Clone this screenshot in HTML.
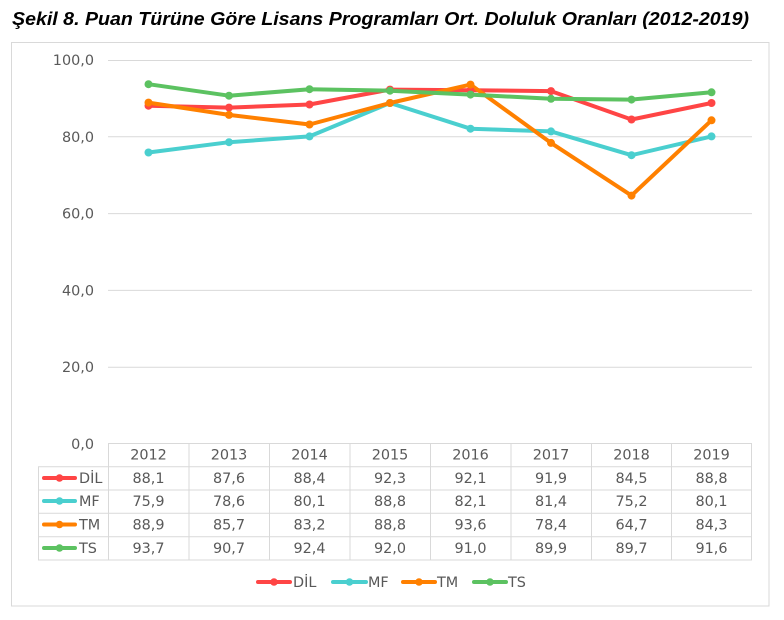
<!DOCTYPE html>
<html><head><meta charset="utf-8"><style>
html,body{margin:0;padding:0;background:#fff;}
svg{display:block;}
</style></head><body>
<svg width="784" height="620" viewBox="0 0 784 620" xmlns="http://www.w3.org/2000/svg">
<rect x="0" y="0" width="784" height="620" fill="#fff"/>
<text x="12" y="25" font-family="Liberation Sans, Arial, sans-serif" font-size="18" font-weight="bold" font-style="italic" fill="#000" textLength="737" lengthAdjust="spacingAndGlyphs">Şekil 8. Puan Türüne Göre Lisans Programları Ort. Doluluk Oranları (2012-2019)</text>
<rect x="11.5" y="42.5" width="757.5" height="563.5" fill="none" stroke="#D9D9D9" stroke-width="1"/>
<g stroke="#D9D9D9" stroke-width="1">
<line x1="108" y1="60.5" x2="752" y2="60.5"/>
<line x1="108" y1="136.8" x2="752" y2="136.8"/>
<line x1="108" y1="213.6" x2="752" y2="213.6"/>
<line x1="108" y1="290.4" x2="752" y2="290.4"/>
<line x1="108" y1="367.2" x2="752" y2="367.2"/>
<line x1="108" y1="443.5" x2="752" y2="443.5"/>
<line x1="38" y1="466.7" x2="752" y2="466.7"/>
<line x1="38" y1="490" x2="752" y2="490"/>
<line x1="38" y1="513.3" x2="752" y2="513.3"/>
<line x1="38" y1="536.7" x2="752" y2="536.7"/>
<line x1="38" y1="560" x2="752" y2="560"/>
<line x1="38.5" y1="466.7" x2="38.5" y2="560"/>
<line x1="108.5" y1="443.5" x2="108.5" y2="560"/>
<line x1="189" y1="443.5" x2="189" y2="560"/>
<line x1="269.5" y1="443.5" x2="269.5" y2="560"/>
<line x1="350" y1="443.5" x2="350" y2="560"/>
<line x1="430.5" y1="443.5" x2="430.5" y2="560"/>
<line x1="511" y1="443.5" x2="511" y2="560"/>
<line x1="591.5" y1="443.5" x2="591.5" y2="560"/>
<line x1="671.5" y1="443.5" x2="671.5" y2="560"/>
<line x1="751.5" y1="443.5" x2="751.5" y2="560"/>
</g>
<g font-family="DejaVu Sans, Verdana, sans-serif" font-size="14.4" fill="#595959" text-anchor="end">
<text x="94" y="65">100,0</text>
<text x="94" y="141.8">80,0</text>
<text x="94" y="218.6">60,0</text>
<text x="94" y="295.4">40,0</text>
<text x="94" y="372.2">20,0</text>
<text x="94" y="449">0,0</text>
</g>
<g font-family="DejaVu Sans, Verdana, sans-serif" font-size="14.4" fill="#595959" text-anchor="middle">
<text x="148.5" y="459.5">2012</text><text x="229" y="459.5">2013</text><text x="309.5" y="459.5">2014</text><text x="390" y="459.5">2015</text><text x="470.5" y="459.5">2016</text><text x="551" y="459.5">2017</text><text x="631.5" y="459.5">2018</text><text x="711.5" y="459.5">2019</text>
<text x="148.5" y="483">88,1</text><text x="229" y="483">87,6</text><text x="309.5" y="483">88,4</text><text x="390" y="483">92,3</text><text x="470.5" y="483">92,1</text><text x="551" y="483">91,9</text><text x="631.5" y="483">84,5</text><text x="711.5" y="483">88,8</text>
<text x="148.5" y="506">75,9</text><text x="229" y="506">78,6</text><text x="309.5" y="506">80,1</text><text x="390" y="506">88,8</text><text x="470.5" y="506">82,1</text><text x="551" y="506">81,4</text><text x="631.5" y="506">75,2</text><text x="711.5" y="506">80,1</text>
<text x="148.5" y="529.5">88,9</text><text x="229" y="529.5">85,7</text><text x="309.5" y="529.5">83,2</text><text x="390" y="529.5">88,8</text><text x="470.5" y="529.5">93,6</text><text x="551" y="529.5">78,4</text><text x="631.5" y="529.5">64,7</text><text x="711.5" y="529.5">84,3</text>
<text x="148.5" y="553">93,7</text><text x="229" y="553">90,7</text><text x="309.5" y="553">92,4</text><text x="390" y="553">92,0</text><text x="470.5" y="553">91,0</text><text x="551" y="553">89,9</text><text x="631.5" y="553">89,7</text><text x="711.5" y="553">91,6</text>
</g>
<!-- table legend keys -->
<g stroke-width="4" stroke-linecap="round">
<line x1="44" y1="478" x2="75" y2="478" stroke="#FF4545"/><circle cx="59.5" cy="478" r="3.8" fill="#FF4545" stroke="none"/>
<line x1="44" y1="501" x2="75" y2="501" stroke="#4ACFCF"/><circle cx="59.5" cy="501" r="3.8" fill="#4ACFCF" stroke="none"/>
<line x1="44" y1="524.5" x2="75" y2="524.5" stroke="#FF8000"/><circle cx="59.5" cy="524.5" r="3.8" fill="#FF8000" stroke="none"/>
<line x1="44" y1="548" x2="75" y2="548" stroke="#5CC261"/><circle cx="59.5" cy="548" r="3.8" fill="#5CC261" stroke="none"/>
</g>
<g font-family="DejaVu Sans, Verdana, sans-serif" font-size="14.4" fill="#595959">
<text x="79" y="483">DİL</text>
<text x="79" y="506">MF</text>
<text x="79" y="529.5">TM</text>
<text x="79" y="553">TS</text>
</g>
<!-- series: y = 444 - v*3.84 ; x = 148.5 + 80.45*i -->
<g fill="none" stroke-width="4" stroke-linejoin="round" stroke-linecap="round">
<polyline stroke="#FF4545" points="148.5,105.7 229,107.6 309.5,104.5 390,89.6 470.5,90.3 551,91.1 631.5,119.5 711.5,103"/>
<polyline stroke="#4ACFCF" points="148.5,152.5 229,142.2 309.5,136.4 390,103 470.5,128.7 551,131.4 631.5,155.2 711.5,136.4"/>
<polyline stroke="#FF8000" points="148.5,102.6 229,114.9 309.5,124.5 390,103 470.5,84.6 551,142.9 631.5,195.6 711.5,120.3"/>
<polyline stroke="#5CC261" points="148.5,84.2 229,95.7 309.5,89.2 390,90.7 470.5,94.6 551,98.8 631.5,99.6 711.5,92.3"/>
</g>
<g fill="#FF4545"><circle cx="148.5" cy="105.7" r="4"/><circle cx="229" cy="107.6" r="4"/><circle cx="309.5" cy="104.5" r="4"/><circle cx="390" cy="89.6" r="4"/><circle cx="470.5" cy="90.3" r="4"/><circle cx="551" cy="91.1" r="4"/><circle cx="631.5" cy="119.5" r="4"/><circle cx="711.5" cy="103" r="4"/></g>
<g fill="#4ACFCF"><circle cx="148.5" cy="152.5" r="4"/><circle cx="229" cy="142.2" r="4"/><circle cx="309.5" cy="136.4" r="4"/><circle cx="390" cy="103" r="4"/><circle cx="470.5" cy="128.7" r="4"/><circle cx="551" cy="131.4" r="4"/><circle cx="631.5" cy="155.2" r="4"/><circle cx="711.5" cy="136.4" r="4"/></g>
<g fill="#FF8000"><circle cx="148.5" cy="102.6" r="4"/><circle cx="229" cy="114.9" r="4"/><circle cx="309.5" cy="124.5" r="4"/><circle cx="390" cy="103" r="4"/><circle cx="470.5" cy="84.6" r="4"/><circle cx="551" cy="142.9" r="4"/><circle cx="631.5" cy="195.6" r="4"/><circle cx="711.5" cy="120.3" r="4"/></g>
<g fill="#5CC261"><circle cx="148.5" cy="84.2" r="4"/><circle cx="229" cy="95.7" r="4"/><circle cx="309.5" cy="89.2" r="4"/><circle cx="390" cy="90.7" r="4"/><circle cx="470.5" cy="94.6" r="4"/><circle cx="551" cy="98.8" r="4"/><circle cx="631.5" cy="99.6" r="4"/><circle cx="711.5" cy="92.3" r="4"/></g>
<!-- bottom legend -->
<g stroke-width="4" stroke-linecap="round">
<line x1="258" y1="582" x2="290" y2="582" stroke="#FF4545"/><circle cx="274" cy="582" r="3.8" fill="#FF4545" stroke="none"/>
<line x1="333" y1="582" x2="366" y2="582" stroke="#4ACFCF"/><circle cx="349.5" cy="582" r="3.8" fill="#4ACFCF" stroke="none"/>
<line x1="403" y1="582" x2="435" y2="582" stroke="#FF8000"/><circle cx="419" cy="582" r="3.8" fill="#FF8000" stroke="none"/>
<line x1="474" y1="582" x2="506" y2="582" stroke="#5CC261"/><circle cx="490" cy="582" r="3.8" fill="#5CC261" stroke="none"/>
</g>
<g font-family="DejaVu Sans, Verdana, sans-serif" font-size="14.4" fill="#595959">
<text x="293" y="587">DİL</text>
<text x="368" y="587">MF</text>
<text x="437" y="587">TM</text>
<text x="508" y="587">TS</text>
</g>
</svg>
</body></html>
